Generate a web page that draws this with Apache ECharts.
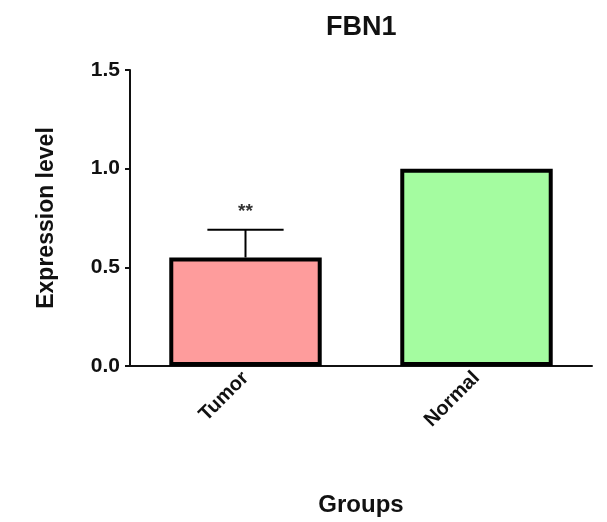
<!DOCTYPE html>
<html>
<head>
<meta charset="utf-8">
<script src="https://cdn.jsdelivr.net/npm/echarts@6/dist/echarts.min.js"></script>
<style>html,body{margin:0;padding:0;background:#fff}#c{width:607px;height:522px}</style>
</head>
<body>
<div id="c"></div>
<script>
var categories = ['Tumor', 'Normal'];
var values = [0.55, 1.0];
var errors = [0.14, 0];
var marks = ['**', ''];
var barColors = ['#fe9c9c', '#a4fca0'];
var yTicks = [0, 0.5, 1.0, 1.5];

var FONT = '"Liberation Sans", Arial, sans-serif';
var chart = echarts.init(document.getElementById('c'), null, {renderer: 'canvas'});
chart.setOption({
  animation: false,
  backgroundColor: '#fff',
  title: {
    text: 'FBN1', left: 321, top: 9,
    textStyle: {fontFamily: FONT, fontWeight: 'bold', fontSize: 27, color: '#111'}
  },
  grid: {left: 130, right: 15, top: 70, bottom: 154, containLabel: false},
  xAxis: {
    type: 'category', data: categories,
    name: 'Groups', nameLocation: 'middle', nameGap: 127,
    nameTextStyle: {fontFamily: FONT, fontWeight: 'bold', fontSize: 24, color: '#111'},
    axisLine: {lineStyle: {color: '#111', width: 2}},
    axisTick: {alignWithLabel: true, length: 6, lineStyle: {color: '#111', width: 2}},
    axisLabel: {rotate: 45, margin: 9, fontFamily: FONT, fontWeight: 'bold', fontSize: 20, color: '#111'}
  },
  yAxis: {
    type: 'value', min: yTicks[0], max: yTicks[yTicks.length - 1], interval: 0.5,
    name: 'Expression level', nameLocation: 'middle', nameGap: 72, nameRotate: 90,
    nameTextStyle: {fontFamily: FONT, fontWeight: 'bold', fontSize: 23, color: '#111'},
    axisLine: {show: true, lineStyle: {color: '#111', width: 2}},
    axisTick: {show: true, length: 5, lineStyle: {color: '#111', width: 2}},
    splitLine: {show: false},
    axisLabel: {margin: 10, fontFamily: FONT, fontWeight: 'bold', fontSize: 21, color: '#111',
      formatter: function (v) { return v.toFixed(1); }}
  },
  series: [
    {
      type: 'bar', barWidth: '66%', z: 2,
      data: values.map(function (v, i) {
        return {value: v, itemStyle: {color: barColors[i], borderColor: '#000', borderWidth: 4}};
      })
    },
    {
      type: 'custom', z: 1,
      data: values.map(function (v, i) { return [i, v, errors[i], marks[i]]; }),
      renderItem: function (params, api) {
        var i = api.value(0), v = api.value(1), e = api.value(2);
        var children = [];
        var base = api.coord([i, v]);
        var top = api.coord([i, v + e]);
        var halfCap = api.size([1, 0])[0] * 0.165;
        if (e > 0) {
          children.push({type: 'line', shape: {x1: base[0], y1: base[1], x2: top[0], y2: top[1]},
            style: {stroke: '#000', lineWidth: 2}});
          children.push({type: 'line', shape: {x1: top[0] - halfCap, y1: top[1], x2: top[0] + halfCap, y2: top[1]},
            style: {stroke: '#000', lineWidth: 2}});
        }
        var m = marks[params.dataIndex];
        if (m) {
          children.push({type: 'text', x: top[0], y: top[1] - 18,
            style: {text: m, fontFamily: FONT, fontSize: 19, fontWeight: 'bold', fill: '#333',
              align: 'center', verticalAlign: 'middle'}});
        }
        return {type: 'group', children: children};
      }
    }
  ]
});
</script>
</body>
</html>
